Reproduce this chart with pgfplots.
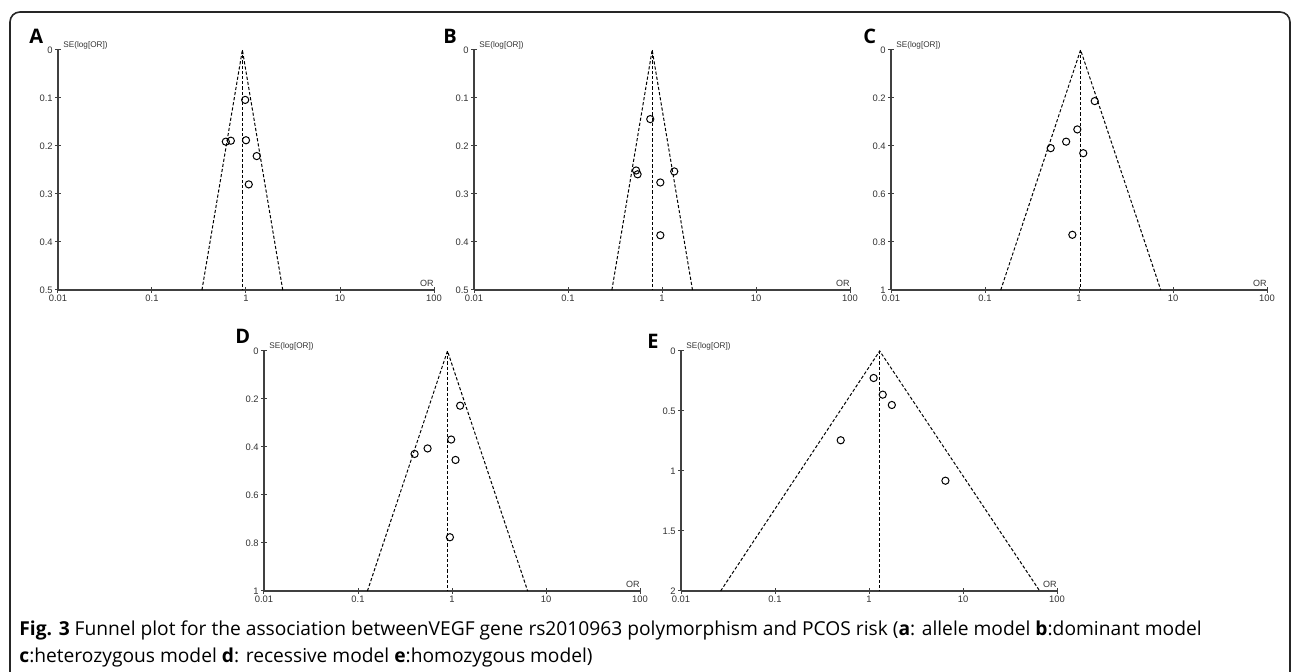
\documentclass[border=0pt]{standalone}
\usepackage{fontspec}
\usepackage{pgfplots}
\pgfplotsset{compat=1.18}
\setmainfont{Open Sans}
\newfontfamily\arial{Liberation Sans}

% 1 px of the reference = 0.5pt
\pgfplotsset{every axis/.append style={
    scale only axis, width=188pt, height=120pt, anchor=south west,
    xmin=0.01, xmax=100, y dir=reverse, ymin=0,
    axis lines=left, axis line style={-, black!75, line width=0.6pt},
    xtick={0.01,0.1,1,10,100}, xticklabels={0.01,0.1,1,10,100},
    xminorticks=false, tick align=center, major tick length=3pt,
    tick style={black!75, line width=0.5pt},
    ticklabel style={font=\arial\fontsize{4.7}{5}\selectfont, inner sep=1pt, text=black!80},
    clip=false}}
\tikzset{funline/.style={black, line width=0.5pt, dash pattern=on 1.6pt off 1pt},
  studypt/.style={black, line width=0.5pt}}
\newcommand{\selab}{\node[anchor=base west, inner sep=0, font=\arial\fontsize{4.1}{5}\selectfont, text=black!80]
  at (axis description cs:0,1) [xshift=2.5pt, yshift=1.2pt] {SE(log[OR])};
  \node[anchor=base east, inner sep=0, font=\arial\fontsize{4.5}{5}\selectfont, text=black!80]
  at (axis description cs:1,0) [yshift=1.5pt] {OR};}
\newcommand{\plab}[2]{\node[anchor=north west, inner sep=0, font=\bfseries\fontsize{10}{11}\selectfont] at #1 {#2};}

\begin{document}
\begin{tikzpicture}
\useasboundingbox (0,0) rectangle (646pt,336pt);
\draw[line width=0.8pt, black!85, rounded corners=5pt] (5pt,-3pt) -- (5pt,330pt) -- (645pt,330pt) -- (645pt,-3pt);

% A: allele model
\begin{semilogxaxis}[at={(29pt,191pt)}, ymax=0.5,
  ytick={0,0.1,0.2,0.3,0.4,0.5}, yticklabels={0,0.1,0.2,0.3,0.4,0.5}]
\addplot[funline] coordinates {(0.34,0.5) (0.915,0) (2.46,0.5)};
\addplot[funline] coordinates {(0.915,0) (0.915,0.5)};
\addplot[only marks, mark=o, mark size=1.8pt, mark options={studypt}] coordinates {(0.98,0.104) (0.61,0.191) (0.69,0.189) (1.00,0.188) (1.30,0.221) (1.07,0.280)};
\selab
\end{semilogxaxis}

% B: dominant model
\begin{semilogxaxis}[at={(237pt,191pt)}, ymax=0.5,
  ytick={0,0.1,0.2,0.3,0.4,0.5}, yticklabels={0,0.1,0.2,0.3,0.4,0.5}]
\addplot[funline] coordinates {(0.293,0.5) (0.786,0) (2.11,0.5)};
\addplot[funline] coordinates {(0.786,0) (0.786,0.5)};
\addplot[only marks, mark=o, mark size=1.8pt, mark options={studypt}] coordinates {(0.75,0.144) (0.53,0.251) (0.55,0.259) (1.35,0.253) (0.96,0.276) (0.96,0.386)};
\selab
\end{semilogxaxis}

% C: heterozygous model
\begin{semilogxaxis}[at={(445.5pt,191pt)}, ymax=1,
  ytick={0,0.2,0.4,0.6,0.8,1}, yticklabels={0,0.2,0.4,0.6,0.8,1}]
\addplot[funline] coordinates {(0.147,1) (1.04,0) (7.41,1)};
\addplot[funline] coordinates {(1.04,0) (1.04,1)};
\addplot[only marks, mark=o, mark size=1.8pt, mark options={studypt}] coordinates {(1.47,0.213) (0.96,0.331) (0.73,0.382) (0.50,0.409) (1.11,0.430) (0.85,0.770)};
\selab
\end{semilogxaxis}

% D: recessive model
\begin{semilogxaxis}[at={(132pt,40.5pt)}, ymax=1,
  ytick={0,0.2,0.4,0.6,0.8,1}, yticklabels={0,0.2,0.4,0.6,0.8,1}]
\addplot[funline] coordinates {(0.126,1) (0.895,0) (6.38,1)};
\addplot[funline] coordinates {(0.895,0) (0.895,1)};
\addplot[only marks, mark=o, mark size=1.8pt, mark options={studypt}] coordinates {(1.22,0.228) (0.98,0.369) (0.55,0.406) (0.40,0.429) (1.09,0.454) (0.95,0.776)};
\selab
\end{semilogxaxis}

% E: homozygous model
\begin{semilogxaxis}[at={(340.5pt,40.5pt)}, ymax=2,
  ytick={0,0.5,1,1.5,2}, yticklabels={0,0.5,1,1.5,2}]
\addplot[funline] coordinates {(0.0264,2) (1.30,0) (65.5,2)};
\addplot[funline] coordinates {(1.30,0) (1.30,2)};
\addplot[only marks, mark=o, mark size=1.8pt, mark options={studypt}] coordinates {(1.12,0.225) (1.40,0.364) (1.75,0.45) (0.50,0.744) (6.50,1.081)};
\selab
\end{semilogxaxis}

\plab{(14.5pt,321.5pt)}{A}
\plab{(221.5pt,321.5pt)}{B}
\plab{(431.5pt,321.5pt)}{C}
\plab{(117.5pt,171.5pt)}{D}
\plab{(323.5pt,169pt)}{E}

\node[anchor=base west, inner sep=0, font=\fontsize{9.6}{11}\selectfont] at (9.5pt,18pt)
  {\textbf{Fig. 3} Funnel plot for the association betweenVEGF gene rs2010963 polymorphism and PCOS risk (\textbf{a}: allele model \textbf{b}:dominant model};
\node[anchor=base west, inner sep=0, font=\fontsize{9.6}{11}\selectfont] at (9.5pt,4.5pt)
  {\textbf{c}:heterozygous model \textbf{d}: recessive model \textbf{e}:homozygous model)};
\end{tikzpicture}
\end{document}
